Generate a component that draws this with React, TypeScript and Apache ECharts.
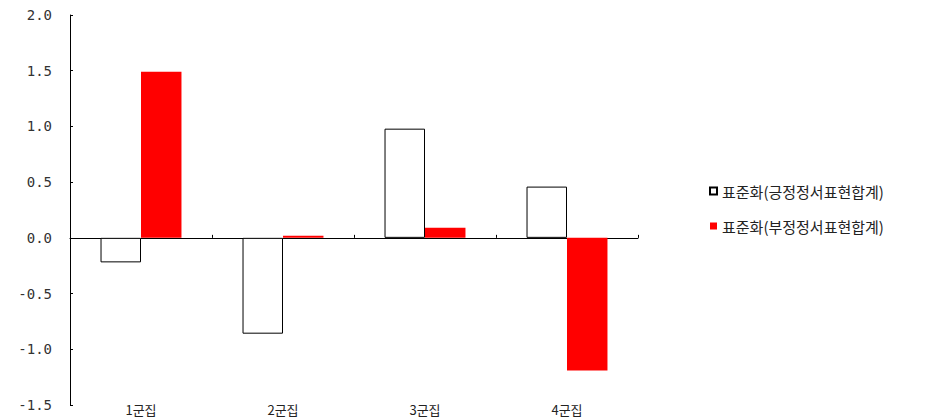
import React, { useEffect, useRef } from "react";
import * as echarts from "echarts";

const categories = ["1군집", "2군집", "3군집", "4군집"];
const seriesNames = ["표준화(긍정정서표현합계)", "표준화(부정정서표현합계)"];
const positiveValues = [-0.22, -0.86, 0.98, 0.46];
const negativeValues = [1.49, 0.02, 0.09, -1.19];
const yTicks = { min: -1.5, max: 2.0, interval: 0.5 };

export default function App() {
  const ref = useRef<HTMLDivElement>(null);
  useEffect(() => {
    document.body.style.margin = "0";
    const chart = echarts.init(ref.current!, null, { renderer: "svg" });
    chart.setOption({
      animation: false,
      backgroundColor: "#ffffff",
      grid: { left: 70, right: 299, top: 15, bottom: 15 },
      legend: {
        orient: "vertical",
        left: 704,
        top: 178,
        itemWidth: 7,
        itemHeight: 7,
        itemGap: 19,
        icon: "rect",
        textStyle: {
          fontFamily: "Noto Sans CJK KR",
          fontSize: 15,
          lineHeight: 16,
          color: "#222",
        },
        data: seriesNames,
      },
      xAxis: [
        {
          type: "category",
          data: categories,
          position: "bottom",
          axisLine: { show: false, onZero: false },
          axisTick: { show: false },
          axisLabel: {
            margin: -2,
            fontFamily: "Noto Sans CJK KR",
            fontSize: 13,
            color: "#222",
          },
          splitLine: { show: false },
        },
        {
          type: "category",
          data: categories,
          position: "bottom",
          axisLine: { show: true, onZero: true, lineStyle: { color: "#000", width: 1 } },
          axisTick: { show: true, inside: true, length: 3, lineStyle: { color: "#000" } },
          axisLabel: { show: false },
          splitLine: { show: false },
        },
      ],
      yAxis: {
        type: "value",
        min: yTicks.min,
        max: yTicks.max,
        interval: yTicks.interval,
        axisLine: { show: true, lineStyle: { color: "#000", width: 1 } },
        axisTick: { show: true, inside: true, length: 3, lineStyle: { color: "#000" } },
        axisLabel: {
          formatter: (v: number) => v.toFixed(1),
          margin: 18,
          fontFamily: "DejaVu Sans Mono",
          fontSize: 14,
          color: "#333",
        },
        splitLine: { show: false },
      },
      series: [
        {
          name: seriesNames[0],
          type: "bar",
          xAxisIndex: 0,
          data: positiveValues,
          barGap: "0%",
          barCategoryGap: "43%",
          itemStyle: { color: "#ffffff", borderColor: "#000000", borderWidth: 1 },
        },
        {
          name: seriesNames[1],
          type: "bar",
          xAxisIndex: 0,
          data: negativeValues,
          barGap: "0%",
          barCategoryGap: "43%",
          itemStyle: { color: "#ff0000" },
        },
      ],
    });
    return () => chart.dispose();
  }, []);
  return (
    <div
      ref={ref}
      style={{ position: "absolute", left: 0, top: 0, width: 937, height: 420 }}
    />
  );
}
